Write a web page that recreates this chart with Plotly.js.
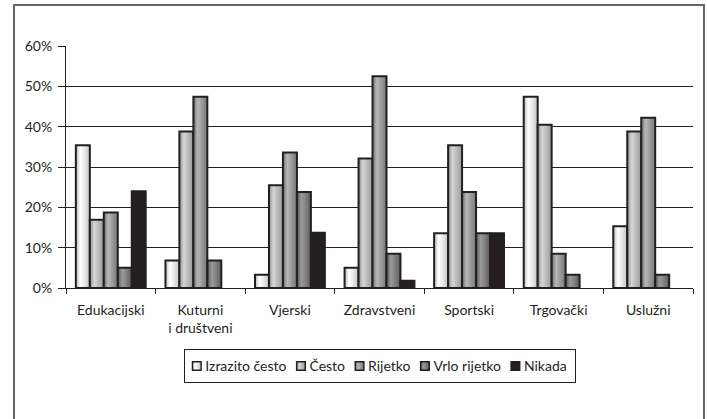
<!DOCTYPE html>
<html>
<head>
<meta charset="utf-8">
<script src="https://cdn.plot.ly/plotly-3.0.1.min.js"></script>
<style>
html,body{margin:0;padding:0;background:#fff;}
#chart{width:707px;height:419px;}
</style>
</head>
<body>
<div id="chart"></div>
<script>
const categories = ['Edukacijski', 'Kuturni<br>i društveni', 'Vjerski', 'Zdravstveni', 'Sportski', 'Trgovački', 'Uslužni'];
const seriesNames = ['Izrazito često', 'Često', 'Rijetko', 'Vrlo rijetko', 'Nikada'];
const izrazitoCesto = [35.4, 6.8, 3.3, 5.0, 13.6, 47.4, 15.3];
const cesto = [16.9, 38.8, 25.5, 32.1, 35.4, 40.5, 38.8];
const rijetko = [18.7, 47.4, 33.6, 52.5, 23.8, 8.5, 42.2];
const vrloRijetko = [5.0, 6.8, 23.8, 8.5, 13.6, 3.3, 3.3];
const nikada = [24.0, null, 13.7, 1.8, 13.6, null, null];
const yTicks = [0, 10, 20, 30, 40, 50, 60];

const seriesValues = [izrazitoCesto, cesto, rijetko, vrloRijetko, nikada];
const baseColors = ['#e6e6e6', '#b4b4b4', '#929292', '#737373', '#231f20'];
const gradStops = [
  [[0, '#b8b8b8'], [0.32, '#ffffff'], [0.55, '#eeeeee'], [1, '#c4c4c4']],
  [[0, '#8e8e8e'], [0.32, '#d6d6d6'], [0.55, '#c0c0c0'], [1, '#9a9a9a']],
  [[0, '#707070'], [0.32, '#b8b8b8'], [0.55, '#a0a0a0'], [1, '#787878']],
  [[0, '#545454'], [0.32, '#9a9a9a'], [0.55, '#888888'], [1, '#5c5c5c']],
  [[0, '#231f20'], [1, '#231f20']]
];

const FONT = 'Lato, "Open Sans", sans-serif';
const INK = '#231f20';

const traces = seriesNames.map((name, i) => ({
  type: 'bar',
  name: name,
  x: categories,
  y: seriesValues[i],
  marker: {color: baseColors[i], line: {color: INK, width: 2}},
  hoverinfo: 'skip'
}));

const layout = {
  width: 707,
  height: 419,
  margin: {l: 66, r: 14, t: 46, b: 131},
  paper_bgcolor: '#ffffff',
  plot_bgcolor: '#ffffff',
  font: {family: FONT, size: 14, color: INK},
  barmode: 'group',
  bargap: 0.22,
  bargroupgap: 0,
  showlegend: true,
  legend: {
    orientation: 'h',
    x: 0.5, xanchor: 'center',
    y: -0.262, yanchor: 'top',
    bordercolor: INK, borderwidth: 1,
    font: {family: FONT, size: 14, color: INK},
    traceorder: 'normal',
    itemwidth: 30
  },
  xaxis: {
    type: 'category',
    showline: true, linecolor: INK, linewidth: 1,
    ticks: 'outside', tickson: 'boundaries', ticklen: 5, tickcolor: INK,
    ticklabelstandoff: 9,
    showgrid: false, zeroline: false,
    tickfont: {family: FONT, size: 14, color: INK},
    fixedrange: true
  },
  yaxis: {
    range: [0, 60],
    tickvals: yTicks,
    ticktext: yTicks.map(v => v + '%'),
    showline: true, linecolor: INK, linewidth: 1,
    ticks: 'outside', ticklen: 7, tickcolor: INK,
    ticklabelstandoff: 3,
    showgrid: true, gridcolor: INK, gridwidth: 1,
    zeroline: false,
    tickfont: {family: FONT, size: 14, color: INK},
    fixedrange: true
  },
  shapes: [{
    type: 'path', xref: 'paper', yref: 'paper',
    path: 'M -0.0829,-0.55 L -0.0829,1.169 L 1.0175,1.169 L 1.0175,-0.55',
    line: {color: '#666666', width: 2}
  }]
};

const TR = /translate\(\s*([-\d.e]+)[ ,]+([-\d.e]+)\s*\)/;

function addGradients(gd) {
  const ns = 'http://www.w3.org/2000/svg';
  const svg = gd.querySelector('svg.main-svg');
  let defs = svg.querySelector('defs');
  if (!defs) { defs = document.createElementNS(ns, 'defs'); svg.insertBefore(defs, svg.firstChild); }
  gradStops.forEach((stops, i) => {
    const lg = document.createElementNS(ns, 'linearGradient');
    lg.setAttribute('id', 'bargrad' + i);
    lg.setAttribute('x1', '0'); lg.setAttribute('x2', '1');
    lg.setAttribute('y1', '0'); lg.setAttribute('y2', '0');
    stops.forEach(s => {
      const st = document.createElementNS(ns, 'stop');
      st.setAttribute('offset', String(s[0]));
      st.setAttribute('stop-color', s[1]);
      lg.appendChild(st);
    });
    defs.appendChild(lg);
  });
  const paint = i => 'url(#bargrad' + i + ')';
  const apply = (p, i) => {
    p.style.removeProperty('fill');
    p.setAttribute('fill', paint(i));
  };
  gd.querySelectorAll('.barlayer .trace').forEach((tr, i) => {
    tr.querySelectorAll('path').forEach(p => apply(p, i));
  });
  gd.querySelectorAll('.legend .traces').forEach((tr, i) => {
    tr.querySelectorAll('.legendpoints path').forEach(p => apply(p, i));
  });
}

function compactLegend(gd) {
  const leg = gd.querySelector('g.legend');
  if (!leg) return;
  const bg = leg.querySelector('rect.bg');
  const items = Array.from(leg.querySelectorAll('g.traces'));
  const pad = 8, symW = 9, symGap = 4, itemGap = 10, boxH = 33;
  const oldH = bg ? parseFloat(bg.getAttribute('height')) : boxH;
  const dy = (boxH - oldH) / 2;
  let cur = pad;
  items.forEach(it => {
    const m = TR.exec(it.getAttribute('transform') || '');
    const y = (m ? parseFloat(m[2]) : 0) + dy;
    it.setAttribute('transform', 'translate(' + cur + ',' + y + ')');
    it.querySelectorAll('.legendpoints path').forEach(p => {
      p.setAttribute('transform', 'translate(' + (symW / 2) + ',0) scale(0.72)');
    });
    const t = it.querySelector('text.legendtext');
    t.setAttribute('x', symW + symGap);
    const w = t.getComputedTextLength();
    const toggle = it.querySelector('rect.legendtoggle');
    if (toggle) { toggle.setAttribute('x', 0); toggle.setAttribute('width', symW + symGap + w); }
    cur += symW + symGap + w + itemGap;
  });
  const total = cur - itemGap + pad;
  if (bg) { bg.setAttribute('width', total); bg.setAttribute('height', boxH); }
  const lm = TR.exec(leg.getAttribute('transform') || '');
  if (lm) {
    const plotCenter = layout.margin.l + (layout.width - layout.margin.l - layout.margin.r) / 2;
    leg.setAttribute('transform', 'translate(' + (plotCenter - total / 2) + ',' + (parseFloat(lm[2]) - 2) + ')');
  }
}

const gd = document.getElementById('chart');
Plotly.newPlot(gd, traces, layout, {staticPlot: true, displayModeBar: false}).then(() => {
  compactLegend(gd);
  addGradients(gd);
});
</script>
</body>
</html>
